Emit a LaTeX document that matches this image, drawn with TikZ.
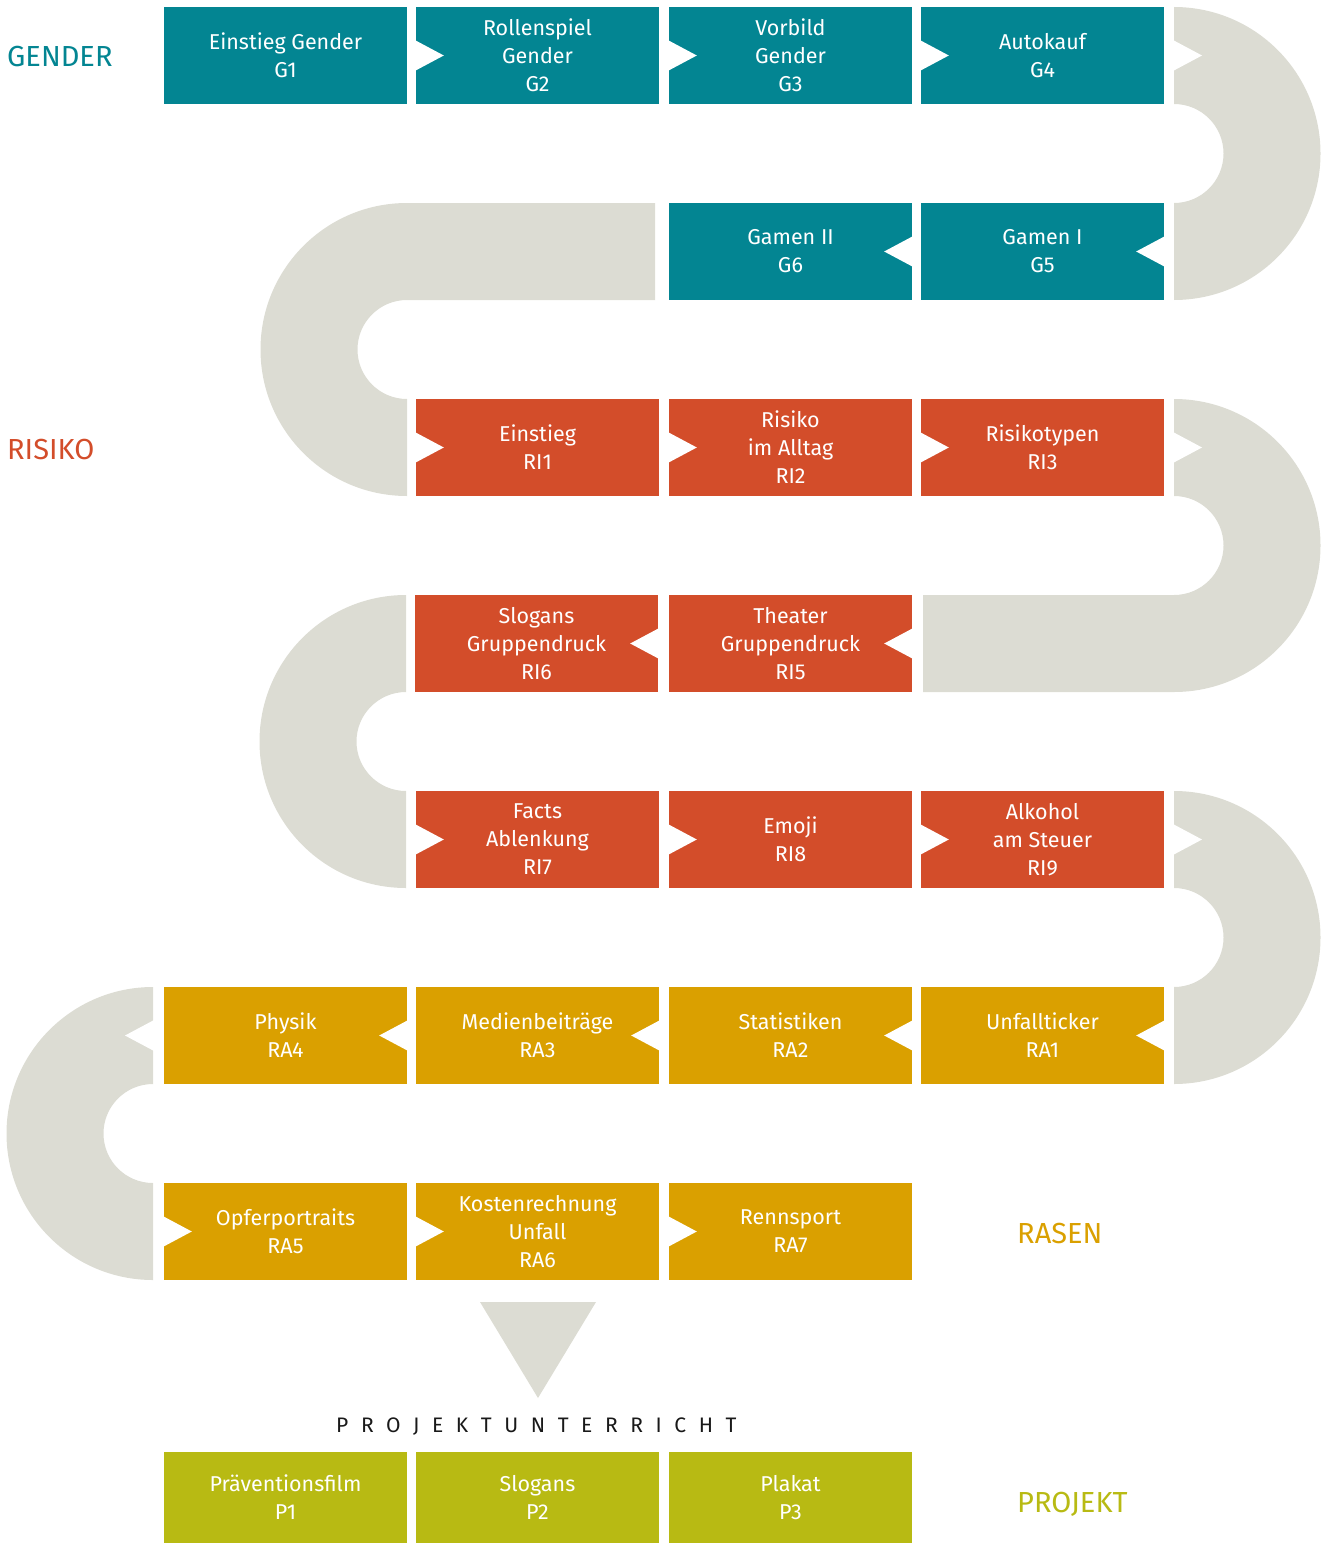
\documentclass[tikz,border=0pt]{standalone}
\usepackage{fontspec}
\setmainfont{Fira Sans}
\definecolor{cteal}{HTML}{038592}
\definecolor{cred}{HTML}{D34D2A}
\definecolor{cgold}{HTML}{DAA000}
\definecolor{colive}{HTML}{B8BA13}
\definecolor{cband}{HTML}{DCDCD3}
\newcommand\notchR[1]{\fill[white] (#1) ++(-2,-16) -- ++(30,16) -- ++(-30,16) -- cycle;}
\newcommand\notchL[1]{\fill[white] (#1) ++(2,-16) -- ++(-30,16) -- ++(30,16) -- cycle;}
\begin{document}
\begin{tikzpicture}[x=1pt,y=-1pt,
  stage/.style={rectangle, inner sep=0pt, minimum width=243pt, minimum height=97pt,
    fill=#1, text=white, align=center, font=\fontsize{21.5}{28}\selectfont},
  pstage/.style={stage=colive, minimum height=91pt},
  band/.style={fill=cband},
  lbl/.style={anchor=west, inner sep=0pt, font=\fontsize{29}{32}\selectfont}]
\useasboundingbox (0,0) rectangle (1331,1544);

% gray bands
\fill[band] (1174,7) arc[start angle=-90,end angle=90,radius=146.5] -- (1174,203)
  arc[start angle=90,end angle=-90,radius=49.5] -- cycle;
\fill[band] (655,203) -- (407,203) arc[start angle=-90,end angle=-270,radius=146.5] -- (407,399)
  arc[start angle=90,end angle=270,radius=49.5] -- (655,300) -- cycle;
\fill[band] (1174,399) arc[start angle=-90,end angle=90,radius=146.5] -- (923,692) -- (923,595) -- (1174,595)
  arc[start angle=90,end angle=-90,radius=49.5] -- cycle;
\fill[band] (406,595) arc[start angle=-90,end angle=-270,radius=146.5] -- (406,791)
  arc[start angle=90,end angle=270,radius=49.5] -- cycle;
\fill[band] (1174,791) arc[start angle=-90,end angle=90,radius=146.5] -- (1174,987)
  arc[start angle=90,end angle=-90,radius=49.5] -- cycle;
\fill[band] (153,987) arc[start angle=-90,end angle=-270,radius=146.5] -- (153,1183)
  arc[start angle=90,end angle=270,radius=49.5] -- cycle;
\fill[band] (480,1302) -- (596,1302) -- (538,1398) -- cycle;

% row 1
\node[stage=cteal] (g1) at (285.5,55.5) {Einstieg Gender\\G1};
\node[stage=cteal] (g2) at (537.5,55.5) {Rollenspiel\\Gender\\G2};
\node[stage=cteal] (g3) at (790.5,55.5) {Vorbild\\Gender\\G3};
\node[stage=cteal] (g4) at (1042.5,55.5) {Autokauf\\G4};
% row 2
\node[stage=cteal] (g6) at (790.5,251.5) {Gamen II\\G6};
\node[stage=cteal] (g5) at (1042.5,251.5) {Gamen I\\G5};
% row 3
\node[stage=cred] (ri1) at (537.5,447.5) {Einstieg\\RI1};
\node[stage=cred] (ri2) at (790.5,447.5) {Risiko\\im Alltag\\RI2};
\node[stage=cred] (ri3) at (1042.5,447.5) {Risikotypen\\RI3};
% row 4
\node[stage=cred] (ri6) at (536.5,643.5) {Slogans\\Gruppendruck\\RI6};
\node[stage=cred] (ri5) at (790.5,643.5) {Theater\\Gruppendruck\\RI5};
% row 5
\node[stage=cred] (ri7) at (537.5,839.5) {Facts\\Ablenkung\\RI7};
\node[stage=cred] (ri8) at (790.5,839.5) {Emoji\\RI8};
\node[stage=cred] (ri9) at (1042.5,839.5) {Alkohol\\am Steuer\\RI9};
% row 6
\node[stage=cgold] (ra4) at (285.5,1035.5) {Physik\\RA4};
\node[stage=cgold] (ra3) at (537.5,1035.5) {Medienbeiträge\\RA3};
\node[stage=cgold] (ra2) at (790.5,1035.5) {Statistiken\\RA2};
\node[stage=cgold] (ra1) at (1042.5,1035.5) {Unfallticker\\RA1};
% row 7
\node[stage=cgold] (ra5) at (285.5,1231.5) {Opferportraits\\RA5};
\node[stage=cgold] (ra6) at (537.5,1231.5) {Kostenrechnung\\Unfall\\RA6};
\node[stage=cgold] (ra7) at (790.5,1231.5) {Rennsport\\RA7};
% project
\node[pstage] (p1) at (285.5,1497.5) {Präventionsfilm\\P1};
\node[pstage] (p2) at (537.5,1497.5) {Slogans\\P2};
\node[pstage] (p3) at (790.5,1497.5) {Plakat\\P3};

% notches
\notchR{g2.west} \notchR{g3.west} \notchR{g4.west} \notchR{1174,55.5}
\notchL{g5.east} \notchL{g6.east}
\notchR{ri1.west} \notchR{ri2.west} \notchR{ri3.west} \notchR{1174,447.5}
\notchL{ri5.east} \notchL{ri6.east}
\notchR{ri7.west} \notchR{ri8.west} \notchR{ri9.west} \notchR{1174,839.5}
\notchL{ra1.east} \notchL{ra2.east} \notchL{ra3.east} \notchL{ra4.east} \notchL{153,1035.5}
\notchR{ra5.west} \notchR{ra6.west} \notchR{ra7.west}

% labels
\node[lbl, text=cteal] (lgender) at (7,57) {GENDER};
\node[lbl, text=cred] (lrisiko) at (7,450) {RISIKO};
\node[lbl, text=cgold] (lrasen) at (1017,1233) {RASEN};
\node[lbl, text=colive] (lprojekt) at (1017,1504) {PROJEKT};
\node[anchor=west, inner sep=0pt, text=black!90,
  font=\fontsize{21}{24}\selectfont\addfontfeature{LetterSpace=60}] (ptitle) at (336,1427) {PROJEKTUNTERRICHT};
\end{tikzpicture}
\end{document}
